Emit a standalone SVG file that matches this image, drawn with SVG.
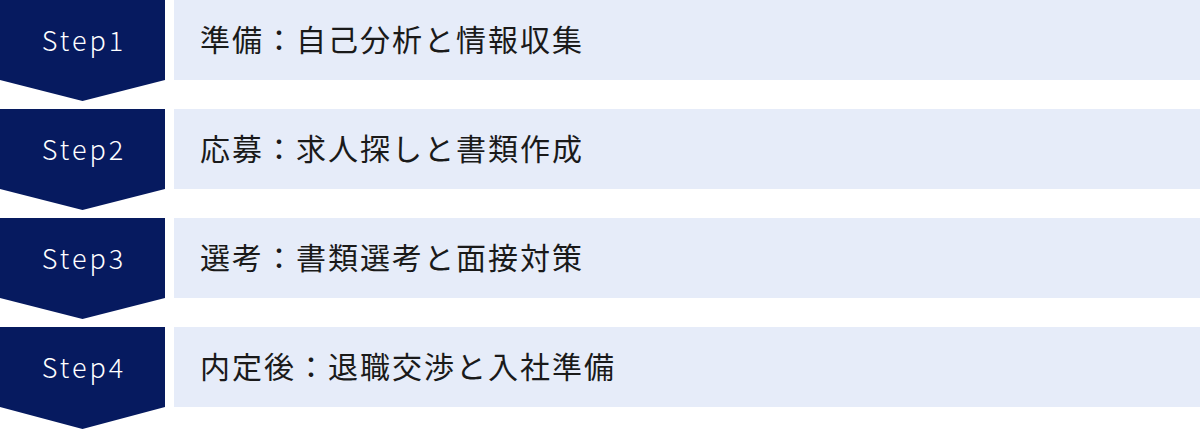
<svg xmlns="http://www.w3.org/2000/svg" width="1200" height="429" viewBox="0 0 1200 429">
<style>
.badge{fill:#061a5f}
.bar{fill:#e6ecf9}
.step{font-family:"Noto Sans CJK JP","Noto Sans",sans-serif;font-size:27px;font-weight:300;fill:#ffffff;letter-spacing:3px;text-anchor:middle}
.label{font-family:"Noto Sans CJK JP",sans-serif;font-size:30px;fill:#1a1a1a;letter-spacing:2px}
</style>
<rect width="1200" height="429" fill="#ffffff"/>
<g id="step1">
<polygon class="badge" points="0,0 165,0 165,80 82.5,101 0,80"/>
<rect class="bar" x="174" y="0" width="1026" height="80"/>
<text class="step" x="84" y="51">Step1</text>
<text class="label" x="200" y="50.5">準備：自己分析と情報収集</text>
</g>
<g id="step2">
<polygon class="badge" points="0,109 165,109 165,189 82.5,210 0,189"/>
<rect class="bar" x="174" y="109" width="1026" height="80"/>
<text class="step" x="84" y="160">Step2</text>
<text class="label" x="200" y="159.5">応募：求人探しと書類作成</text>
</g>
<g id="step3">
<polygon class="badge" points="0,218 165,218 165,298 82.5,319 0,298"/>
<rect class="bar" x="174" y="218" width="1026" height="80"/>
<text class="step" x="84" y="269">Step3</text>
<text class="label" x="200" y="268.5">選考：書類選考と面接対策</text>
</g>
<g id="step4">
<polygon class="badge" points="0,327 165,327 165,407 82.5,429 0,407"/>
<rect class="bar" x="174" y="327" width="1026" height="80"/>
<text class="step" x="84" y="378">Step4</text>
<text class="label" x="200" y="377.5">内定後：退職交渉と入社準備</text>
</g>
<g id="connectors"></g>
</svg>
